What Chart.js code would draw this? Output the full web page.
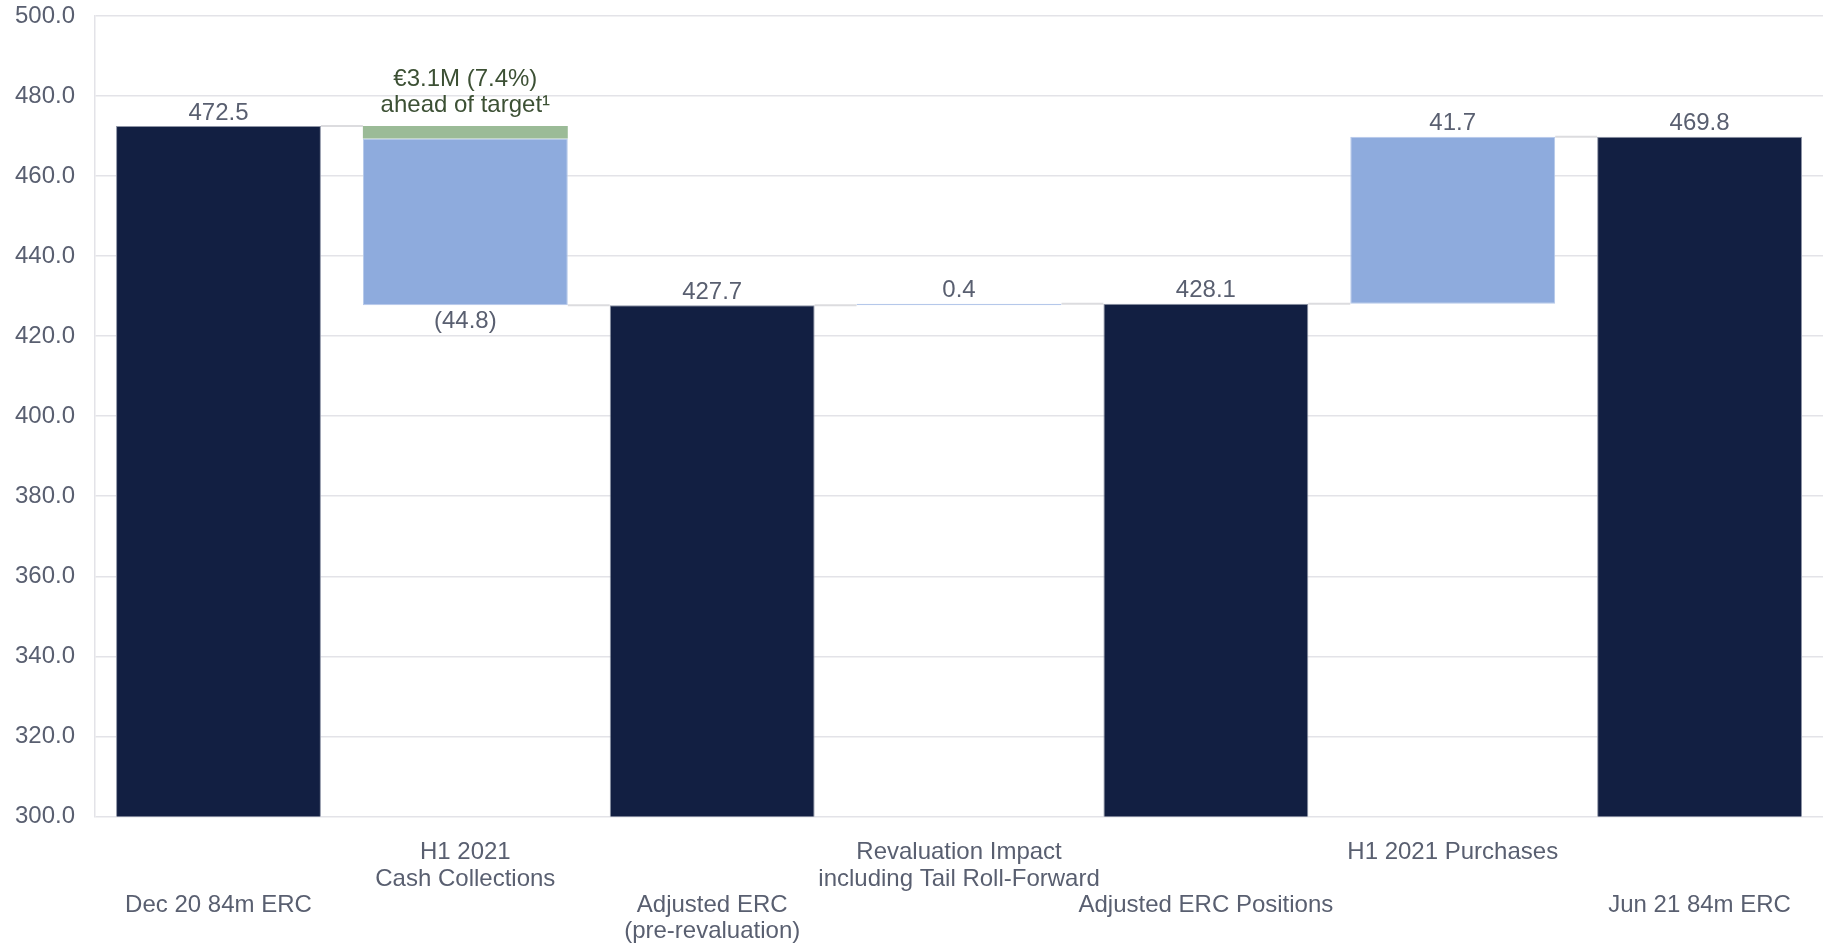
<!DOCTYPE html>
<html>
<head>
<meta charset="utf-8">
<script src="https://cdn.jsdelivr.net/npm/chart.js@4"></script>
<style>
  html, body { margin: 0; padding: 0; background: #fff; }
  #wrap { width: 1827px; height: 946px; position: relative; }
</style>
</head>
<body>
<div id="wrap"><canvas id="erc"></canvas></div>
<script>
// categories (blank lines push the totals into the lower label row)
const categories = [
  ['', '', 'Dec 20 84m ERC'],
  ['H1 2021', 'Cash Collections'],
  ['', '', 'Adjusted ERC', '(pre-revaluation)'],
  ['Revaluation Impact', 'including Tail Roll-Forward'],
  ['', '', 'Adjusted ERC Positions'],
  ['H1 2021 Purchases'],
  ['', '', 'Jun 21 84m ERC']
];

// running ERC positions (null = movement bar)
const totals = [472.5, null, 427.7, null, 428.1, null, 469.8];
// movements between positions
const changes = [null, -44.8, null, 0.4, null, 41.7, null];
// part of the cash collections that came in ahead of target
const aheadOfTarget = [null, 3.1, null, null, null, null, null];
const aheadNote = ['€3.1M (7.4%)', 'ahead of target¹'];

const yTicks = { min: 300, max: 500, step: 20 };

const NAVY = '#121f42';
const BLUE = '#8eabdd';
const GREEN = '#9bbb97';
const TEXT = '#595f70';
const FONT = '"Liberation Sans", Arial, sans-serif';

// build the floating bars from the values above
let level = 0;
const levels = [];
const blueBars = [];
const greenBars = [];
categories.forEach((_, i) => {
  if (totals[i] !== null) {
    level = totals[i];
    blueBars.push(null);
    greenBars.push(null);
  } else {
    const from = level;
    const to = level + changes[i];
    const extra = aheadOfTarget[i];
    if (extra) {
      const top = Math.max(from, to);
      blueBars.push([Math.min(from, to), top - extra]);
      greenBars.push([top - extra, top]);
    } else {
      blueBars.push([Math.min(from, to), Math.max(from, to)]);
      greenBars.push(null);
    }
    level = to;
  }
  levels.push(level);
});

const fmt = v => v < 0 ? '(' + Math.abs(v).toFixed(1) + ')' : v.toFixed(1);

// grey connectors between neighbouring bars
const connectors = {
  id: 'connectors',
  beforeDatasetsDraw(chart) {
    const ctx = chart.ctx;
    const y = chart.scales.y;
    const bars = chart.getDatasetMeta(0).data;
    ctx.save();
    ctx.strokeStyle = '#dcdcdf';
    ctx.lineWidth = 2;
    for (let i = 0; i < levels.length - 1; i++) {
      const a = bars[i], b = bars[i + 1];
      const half = a.width / 2;
      const py = y.getPixelForValue(levels[i]);
      ctx.beginPath();
      ctx.moveTo(a.x + half, py);
      ctx.lineTo(b.x - half, py);
      ctx.stroke();
    }
    ctx.restore();
  }
};

// value labels and the cash collections note
const valueLabels = {
  id: 'valueLabels',
  afterDatasetsDraw(chart) {
    const ctx = chart.ctx;
    const y = chart.scales.y;
    const x = chart.scales.x;
    ctx.save();
    ctx.font = '24px ' + FONT;
    ctx.textAlign = 'center';
    ctx.textBaseline = 'middle';
    ctx.fillStyle = TEXT;
    categories.forEach((_, i) => {
      const px = x.getPixelForValue(i);
      if (totals[i] !== null) {
        ctx.fillText(fmt(totals[i]), px, y.getPixelForValue(totals[i]) - 13);
      } else if (changes[i] < 0) {
        ctx.fillText(fmt(changes[i]), px, y.getPixelForValue(levels[i]) + 16);
      } else {
        ctx.fillText(fmt(changes[i]), px, y.getPixelForValue(levels[i]) - 13);
      }
      if (aheadOfTarget[i]) {
        const top = y.getPixelForValue(levels[i - 1]);
        ctx.fillStyle = '#3c5034';
        ctx.fillText(aheadNote[0], px, top - 47);
        ctx.fillText(aheadNote[1], px, top - 21);
        ctx.fillStyle = TEXT;
      }
    });
    ctx.restore();
  }
};

new Chart(document.getElementById('erc'), {
  type: 'bar',
  data: {
    labels: categories,
    datasets: [
      {
        label: 'ERC',
        data: totals,
        backgroundColor: NAVY,
        borderColor: '#8f95a6',
        borderWidth: 1,
        grouped: false,
        order: 1
      },
      {
        label: 'Movement',
        data: blueBars,
        backgroundColor: BLUE,
        borderColor: '#b5c8ea',
        borderWidth: 1,
        borderSkipped: false,
        grouped: false,
        order: 2
      },
      {
        label: 'Ahead of target',
        data: greenBars,
        backgroundColor: GREEN,
        borderWidth: 0,
        grouped: false,
        order: 0
      }
    ]
  },
  options: {
    responsive: true,
    maintainAspectRatio: false,
    animation: false,
    layout: { padding: { top: 16, right: 4, bottom: 1, left: 15 } },
    datasets: {
      bar: { categoryPercentage: 1, barPercentage: 0.83 }
    },
    scales: {
      x: {
        grid: { display: false, drawTicks: false },
        border: { display: false },
        ticks: {
          color: TEXT,
          padding: 23,
          maxRotation: 0,
          autoSkip: false,
          font: { family: FONT, size: 24, lineHeight: 1.1 }
        },
        // chart.js counts tick padding twice and reserves room for the outer labels
        afterFit: s => {
          s.paddingLeft = 0;
          s.paddingRight = 0;
          s.height -= s.options.ticks.padding;
        }
      },
      y: {
        min: yTicks.min,
        max: yTicks.max,
        grid: { color: '#e3e3e8', lineWidth: 1.5, drawTicks: false },
        border: { display: true, color: '#e3e3e8', width: 1.5 },
        ticks: {
          stepSize: yTicks.step,
          color: TEXT,
          padding: 20,
          font: { family: FONT, size: 24 },
          callback: v => v.toFixed(1)
        },
        afterFit: s => {
          s.paddingTop = 0;
          s.paddingBottom = 0;
          s.width -= s.options.ticks.padding;
        }
      }
    },
    plugins: {
      legend: { display: false },
      tooltip: { enabled: false }
    }
  },
  plugins: [connectors, valueLabels]
});
</script>
</body>
</html>
